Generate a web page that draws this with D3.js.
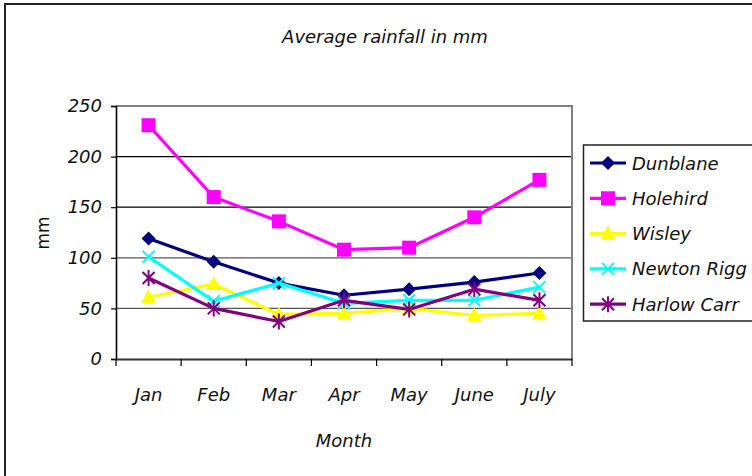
<!DOCTYPE html>
<html>
<head>
<meta charset="utf-8">
<script src="https://cdn.jsdelivr.net/npm/d3@7"></script>
<style>
  html, body { margin: 0; padding: 0; background: #fff; }
  svg { display: block; }
  text { font-family: "DejaVu Sans", Verdana, sans-serif; fill: #111; }
</style>
</head>
<body>
<svg id="chart" width="752" height="476"></svg>
<script>
const months = ["Jan", "Feb", "Mar", "Apr", "May", "June", "July"];
const yTicks = [0, 50, 100, 150, 200, 250];
const seriesNames = ["Dunblane", "Holehird", "Wisley", "Newton Rigg", "Harlow Carr"];
const seriesColors = ["#000080", "#FF00FF", "#FFFF00", "#00FFFF", "#800080"];
const seriesMarkers = ["diamond", "square", "triangle", "x", "star"];
const dunblane   = [119, 96, 75, 63, 69, 76, 85];
const holehird   = [231, 160, 136, 108, 110, 140, 177];
const wisley     = [61, 74, 44, 45, 50, 43, 45];
const newtonRigg = [101, 57, 75, 55, 58, 58, 71];
const harlowCarr = [80, 50, 37, 58, 49, 69, 58];
const seriesValues = [dunblane, holehird, wisley, newtonRigg, harlowCarr];

const svg = d3.select("#chart");
const plot = { left: 116, right: 572, top: 106, bottom: 359 };

// outer frame
svg.append("rect").attr("x", 5).attr("y", 4).attr("width", 760).attr("height", 490)
  .attr("fill", "none").attr("stroke", "#222").attr("stroke-width", 2);

const x = d3.scaleBand().domain(months).range([plot.left, plot.right]).padding(0);
const y = d3.scaleLinear().domain([0, 250]).range([plot.bottom, plot.top]);
const cx = m => x(m) + x.bandwidth() / 2;

// gridlines
const grid = svg.append("g");
yTicks.filter(t => t > 0 && t < 250).forEach(t => {
  grid.append("line").attr("x1", plot.left).attr("x2", plot.right)
    .attr("y1", y(t)).attr("y2", y(t))
    .attr("stroke", t >= 150 ? "#000" : "#555").attr("stroke-width", 1.2);
});
// plot border top & right
svg.append("path")
  .attr("d", `M${plot.left},${y(250)}H${plot.right}V${plot.bottom}`)
  .attr("fill", "none").attr("stroke", "#808080").attr("stroke-width", 2);

// y axis
const yAxis = d3.axisLeft(y).tickValues(yTicks).tickSize(5).tickPadding(9);
const gy = svg.append("g").attr("transform", `translate(${plot.left},0)`).call(yAxis);
gy.select(".domain").attr("stroke", "#000").attr("stroke-width", 1.6);
gy.selectAll(".tick line").attr("stroke", "#000").attr("stroke-width", 1.2);
gy.selectAll(".tick text").attr("font-size", 18).attr("font-style", "italic")
  .attr("font-family", "DejaVu Sans, sans-serif").attr("fill", "#111");

// x axis
const xAxis = d3.axisBottom(x).tickSize(0).tickPadding(29);
const gx = svg.append("g").attr("transform", `translate(0,${plot.bottom})`).call(xAxis);
gx.select(".domain").attr("stroke", "#333").attr("stroke-width", 2);
gx.selectAll(".tick text").attr("font-size", 18).attr("font-style", "italic")
  .attr("font-family", "DejaVu Sans, sans-serif").attr("fill", "#111");
// category boundary ticks
const bounds = months.map(m => x(m)).concat([x.range()[1]]);
svg.append("g").selectAll("line").data(bounds).join("line")
  .attr("x1", d => d).attr("x2", d => d)
  .attr("y1", plot.bottom).attr("y2", plot.bottom + 7)
  .attr("stroke", "#000").attr("stroke-width", 1.2);

// title and axis labels
svg.append("text").attr("x", 385).attr("y", 43).attr("text-anchor", "middle")
  .attr("font-size", 18).attr("font-style", "italic").text("Average rainfall in mm");
svg.append("text").attr("x", (plot.left + plot.right) / 2).attr("y", 447).attr("text-anchor", "middle")
  .attr("font-size", 18).attr("font-style", "italic").text("Month");
svg.append("text").attr("transform", `translate(49,233) rotate(-90)`).attr("text-anchor", "middle")
  .attr("font-size", 17).text("mm");

// markers
function drawMarker(g, type, px, py, color) {
  if (type === "diamond") {
    g.append("path").attr("d", `M${px},${py - 7}L${px + 7},${py}L${px},${py + 7}L${px - 7},${py}Z`)
      .attr("fill", color);
  } else if (type === "square") {
    g.append("rect").attr("x", px - 7).attr("y", py - 7).attr("width", 14).attr("height", 14)
      .attr("fill", color);
  } else if (type === "triangle") {
    g.append("path").attr("d", `M${px},${py - 8}L${px + 7.5},${py + 6}L${px - 7.5},${py + 6}Z`)
      .attr("fill", color);
  } else if (type === "x") {
    g.append("path").attr("d", `M${px - 6},${py - 6}L${px + 6},${py + 6}M${px + 6},${py - 6}L${px - 6},${py + 6}`)
      .attr("stroke", color).attr("stroke-width", 2).attr("fill", "none");
  } else if (type === "star") {
    g.append("path").attr("d", `M${px - 6},${py - 6}L${px + 6},${py + 6}M${px + 6},${py - 6}L${px - 6},${py + 6}M${px},${py - 8}L${px},${py + 8}`)
      .attr("stroke", color).attr("stroke-width", 2).attr("fill", "none");
  }
}

const line = d3.line().x((d, i) => cx(months[i])).y(d => y(d));
seriesValues.forEach((vals, s) => {
  const g = svg.append("g");
  g.append("path").datum(vals).attr("d", line).attr("fill", "none")
    .attr("stroke", seriesColors[s]).attr("stroke-width", 3.2).attr("stroke-linejoin", "round");
  vals.forEach((v, i) => drawMarker(g, seriesMarkers[s], cx(months[i]), y(v), seriesColors[s]));
});

// legend
const lg = svg.append("g");
lg.append("rect").attr("x", 583.5).attr("y", 145).attr("width", 180).attr("height", 176)
  .attr("fill", "#fff").attr("stroke", "#222").attr("stroke-width", 1.5);
seriesNames.forEach((name, s) => {
  const ly = 163 + s * 35.3;
  lg.append("line").attr("x1", 590).attr("x2", 626).attr("y1", ly).attr("y2", ly)
    .attr("stroke", seriesColors[s]).attr("stroke-width", 3.2);
  drawMarker(lg, seriesMarkers[s], 608, ly, seriesColors[s]);
  lg.append("text").attr("x", 632).attr("y", ly + 6.5).attr("font-size", 18)
    .attr("font-style", "italic").text(name);
});
</script>
</body>
</html>
